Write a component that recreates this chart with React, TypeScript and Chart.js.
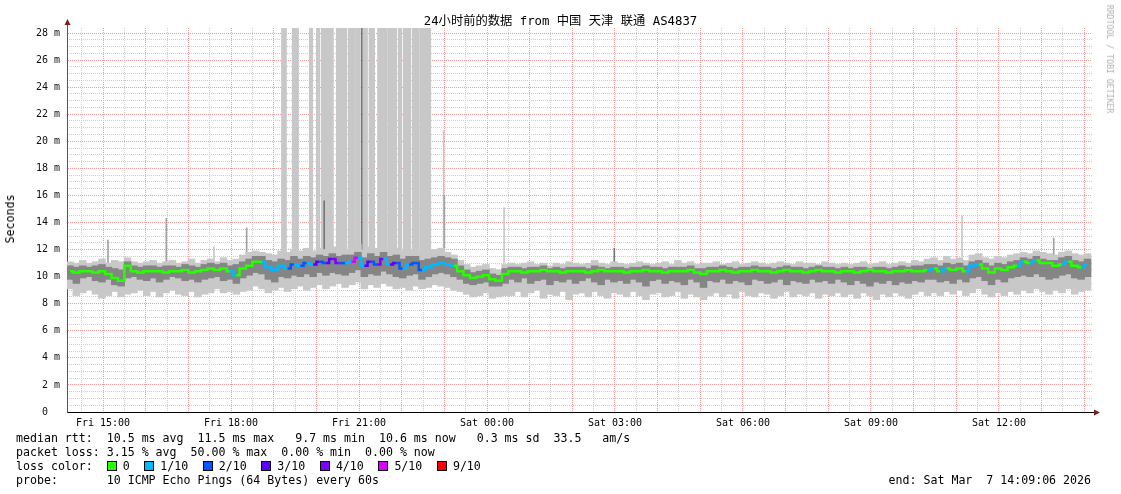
import React, { useEffect, useRef } from 'react';
import { Chart, registerables } from 'chart.js';

Chart.register(...registerables);

// ---------------- data ----------------
// 160 samples of 9 minutes each, starting Fri 14:09 (hours since Fri 00:00)
const START_HOUR = 14.15;
const STEP_HOURS = 0.15;

// median rtt (ms)
const medianRtt = [
  10.4, 10.3, 10.4, 10.4, 10.3, 10.4, 10.2, 9.9, 9.7, 10.8, 10.4, 10.3, 10.4, 10.4, 10.4, 10.3, 10.4, 10.4, 10.5, 10.3, 10.4, 10.5, 10.6, 10.5, 10.6, 10.4,
  10.1, 10.6, 10.8, 11.1, 11.1, 10.7, 10.5, 10.8, 10.6, 10.9, 10.8, 11.0, 10.9, 11.1, 11.0,
  11.3, 11.0, 11.0, 11.1, 11.4, 10.8, 11.1, 10.9, 11.3, 10.9, 11.0, 10.6, 10.9, 11.0, 10.5, 10.7, 10.9, 11.0, 10.9, 10.8,
  10.4, 10.1, 9.9, 10.0, 10.1, 9.8, 9.7, 10.2,
  10.4, 10.4, 10.3, 10.4, 10.4, 10.5, 10.4, 10.4, 10.3, 10.4, 10.4, 10.4, 10.3, 10.4, 10.5, 10.4, 10.4, 10.4, 10.3, 10.4,
  10.4, 10.5, 10.4, 10.4, 10.3, 10.4, 10.4, 10.4, 10.5, 10.3, 10.2, 10.4, 10.4, 10.5, 10.4, 10.3, 10.4, 10.4, 10.5, 10.4,
  10.4, 10.3, 10.4, 10.5, 10.4, 10.4, 10.3, 10.4, 10.5, 10.4, 10.4, 10.3,
  10.4, 10.4, 10.3, 10.4, 10.5, 10.4, 10.4, 10.3, 10.4, 10.4, 10.5, 10.4, 10.4, 10.5,
  10.6, 10.4, 10.6, 10.5, 10.6, 10.4, 10.8, 10.9, 10.6, 10.3, 10.6, 10.5, 10.7, 10.8, 11.1, 11.0, 11.2, 11.0, 11.0, 10.8, 10.9, 11.1, 10.8, 10.7, 10.9,
];

// loss level index per sample (0 -> 0, 1 -> 1/10, ... 6 -> 9/10)
const lossLevel = [
  0, 0, 0, 0, 0, 0, 0, 0, 0, 0, 0, 0, 0, 0, 0, 0, 0, 0, 0, 0, 0, 0, 0, 0, 0, 0,
  1, 0, 0, 0, 0, 1, 1, 1, 1, 2, 1, 2, 1, 3, 2,
  3, 4, 2, 1, 5, 1, 3, 2, 4, 1, 3, 2, 1, 2, 2, 1, 1, 1, 1, 1,
  0, 0, 0, 0, 0, 0, 0, 0,
  0, 0, 0, 0, 0, 0, 0, 0, 0, 0, 0, 0, 0, 0, 0, 0, 0, 0, 0, 0,
  0, 0, 0, 0, 0, 0, 0, 0, 0, 0, 0, 0, 0, 0, 0, 0, 0, 0, 0, 0,
  0, 0, 0, 0, 0, 0, 0, 0, 0, 0, 0, 0,
  0, 0, 0, 0, 0, 0, 0, 0, 0, 0, 0, 0, 0, 0,
  1, 0, 1, 0, 0, 0, 1, 1, 0, 0, 0, 0, 0, 0, 1, 0, 1, 0, 0, 0, 0, 1, 0, 0, 1,
];

// outer smoke (fastest / slowest pings)
const smokeLow = [
  9.1, 8.6, 8.8, 9.0, 8.7, 8.4, 8.6, 8.9, 8.5, 8.7, 8.8, 9.0, 8.6, 8.9, 8.5, 8.8, 9.0, 8.7, 8.6, 8.9, 8.5, 8.7, 8.8, 9.1, 8.8, 8.9,
  8.7, 8.9, 9.0, 9.3, 9.1, 8.8, 9.0, 9.2, 8.9, 9.1, 9.3, 9.0, 9.2, 9.4, 9.1,
  9.3, 9.5, 9.2, 9.4, 9.6, 9.1, 9.4, 9.2, 9.5, 9.3, 9.1, 9.2, 9.0, 9.3, 9.1, 9.2, 9.4, 9.3, 9.2, 9.0,
  8.9, 8.7, 8.5, 8.6, 8.8, 8.4, 8.5, 8.6,
  8.6, 8.9, 8.5, 8.8, 9.0, 8.4, 8.7, 8.6, 8.9, 8.3, 8.7, 8.8, 8.5, 8.9, 8.6, 8.4, 8.8, 8.7, 8.5, 8.9,
  8.6, 8.3, 8.7, 8.8, 8.5, 8.6, 8.9, 8.4, 8.7, 8.5, 8.3, 8.6, 8.8, 8.5, 8.7, 8.4, 8.9, 8.6, 8.5, 8.8,
  8.7, 8.4, 8.6, 8.9, 8.5, 8.7, 8.6, 8.8, 8.4, 8.7, 8.6, 8.8,
  8.5, 8.7, 8.4, 8.8, 8.6, 8.3, 8.7, 8.5, 8.8, 8.6, 8.4, 8.7, 8.9, 8.6,
  8.8, 8.6, 8.9, 8.7, 9.0, 8.6, 8.8, 9.1, 8.7, 8.5, 8.8, 8.6, 8.9, 8.7, 9.0, 8.8, 9.1, 8.9, 8.7, 9.0, 8.8, 9.1, 8.7, 8.9, 9.0,
];
const smokeHigh = [
  11.1, 11.0, 11.2, 11.0, 11.1, 11.3, 11.0, 11.2, 11.1, 11.4, 11.1, 11.0, 11.1, 11.2, 11.0, 11.1, 11.2, 11.0, 11.1, 11.3, 11.0, 11.2, 11.3, 11.1, 11.4, 11.2,
  11.3, 11.6, 11.8, 11.9, 11.8, 11.7, 11.6, 11.9, 11.8, 12.0, 11.9, 12.1, 11.9, 12.1, 12.0,
  12.2, 12.1, 12.0, 12.2, 12.4, 12.0, 12.2, 12.1, 12.3, 12.0, 12.1, 11.9, 12.0, 12.0, 11.8, 11.9, 12.0, 12.1, 11.8, 11.6,
  11.2, 10.9, 10.7, 10.8, 10.9, 10.6, 10.5, 10.9,
  11.0, 10.9, 11.0, 11.1, 10.9, 11.0, 10.8, 11.0, 10.9, 11.1, 11.0, 10.9, 11.0, 11.2, 11.0, 10.9, 11.1, 11.0, 10.9, 11.0,
  11.1, 11.0, 10.9, 11.0, 11.1, 10.9, 11.2, 11.0, 11.1, 10.9, 11.0, 11.0, 11.1, 10.9, 11.0, 11.1, 10.9, 11.0, 11.1, 11.0,
  10.9, 11.0, 11.1, 11.0, 10.9, 11.1, 11.0, 11.0, 10.9, 11.1, 11.0, 10.9,
  11.0, 10.9, 11.0, 11.1, 10.9, 11.0, 11.1, 10.9, 11.0, 11.1, 11.0, 11.2, 11.1, 11.3,
  11.4, 11.2, 11.5, 11.3, 11.4, 11.2, 11.6, 11.7, 11.4, 11.3, 11.5, 11.4, 11.6, 11.7, 11.8, 11.7, 11.9, 11.8, 11.7, 11.6, 11.8, 11.9, 11.7, 11.6, 11.7,
];

// inner (dense) smoke
const coreLow = [
  9.8, 9.5, 9.9, 10.0, 9.7, 9.6, 9.8, 9.4, 9.3, 9.9, 10.0, 9.8, 9.7, 9.9, 9.6, 9.8, 10.0, 9.9, 9.7, 9.8, 9.6, 9.8, 9.9, 10.0, 9.7, 9.8,
  9.5, 9.9, 10.1, 10.3, 10.2, 9.8, 9.6, 10.0, 9.9, 10.1, 10.0, 10.2, 10.0, 10.3, 10.1,
  10.3, 10.2, 10.1, 10.3, 10.5, 10.0, 10.2, 10.1, 10.4, 10.2, 10.0, 9.9, 10.1, 10.2, 9.8, 10.0, 10.2, 10.3, 10.2, 10.0,
  9.8, 9.5, 9.4, 9.5, 9.6, 9.3, 9.3, 9.5,
  9.8, 9.6, 9.9, 9.5, 9.7, 9.8, 9.4, 9.7, 9.6, 9.8, 9.5, 9.7, 9.9, 9.6, 9.4, 9.8, 9.6, 9.7, 9.5, 9.8,
  9.6, 9.3, 9.7, 9.8, 9.5, 9.7, 9.6, 9.4, 9.8, 9.6, 9.2, 9.7, 9.6, 9.8, 9.5, 9.7, 9.6, 9.4, 9.8, 9.7,
  9.5, 9.6, 9.8, 9.4, 9.7, 9.6, 9.5, 9.8, 9.6, 9.7, 9.5, 9.8,
  9.6, 9.4, 9.7, 9.5, 9.3, 9.6, 9.5, 9.7, 9.4, 9.6, 9.5, 9.7, 9.6, 9.8,
  9.8, 9.6, 9.7, 9.5, 9.8, 9.6, 9.9, 10.0, 9.7, 9.4, 9.8, 9.6, 9.9, 10.0, 10.1, 10.0, 10.2, 10.0, 9.8, 9.9, 10.1, 10.2, 9.9, 9.8, 10.0,
];
const coreHigh = [
  10.8, 10.7, 10.8, 10.7, 10.8, 10.9, 10.7, 10.6, 10.5, 11.1, 10.8, 10.7, 10.8, 10.8, 10.7, 10.8, 10.8, 10.7, 10.9, 10.8, 10.7, 10.9, 11.0, 10.9, 11.0, 10.8,
  10.9, 11.1, 11.3, 11.5, 11.5, 11.2, 11.1, 11.3, 11.2, 11.5, 11.3, 11.5, 11.4, 11.6, 11.5,
  11.7, 11.5, 11.6, 11.6, 11.8, 11.4, 11.7, 11.5, 11.8, 11.5, 11.6, 11.3, 11.5, 11.5, 11.2, 11.3, 11.4, 11.5, 11.4, 11.3,
  10.8, 10.5, 10.3, 10.4, 10.5, 10.2, 10.1, 10.6,
  10.7, 10.7, 10.6, 10.7, 10.7, 10.8, 10.6, 10.7, 10.6, 10.7, 10.7, 10.7, 10.6, 10.8, 10.7, 10.6, 10.7, 10.7, 10.6, 10.7,
  10.7, 10.8, 10.7, 10.7, 10.6, 10.7, 10.7, 10.7, 10.8, 10.6, 10.6, 10.7, 10.7, 10.8, 10.7, 10.6, 10.7, 10.7, 10.8, 10.7,
  10.7, 10.6, 10.7, 10.8, 10.7, 10.7, 10.6, 10.7, 10.8, 10.7, 10.7, 10.6,
  10.7, 10.6, 10.7, 10.7, 10.6, 10.7, 10.7, 10.6, 10.7, 10.8, 10.7, 10.8, 10.8, 10.9,
  10.9, 10.8, 11.0, 10.9, 11.0, 10.8, 11.1, 11.2, 11.0, 10.8, 11.0, 10.9, 11.1, 11.2, 11.4, 11.3, 11.5, 11.3, 11.2, 11.2, 11.4, 11.5, 11.2, 11.1, 11.3,
];

// periods where slow pings go off the top of the graph (minutes since Fri 00:00)
const offScaleStart = [1152, 1167, 1191, 1201, 1208, 1229, 1246, 1256, 1267, 1275, 1287, 1302, 1316, 1323, 1336, 1347];
const offScaleEnd = [1157, 1174, 1194, 1204, 1223, 1242, 1253, 1261, 1271, 1281, 1299, 1312, 1319, 1332, 1344, 1360];
const offScaleLow = 11.5;
const offScaleHigh = 30;

// single slow-ping spikes (minutes since Fri 00:00)
const spikeTime = [907, 989, 1056, 1102, 1211, 1264, 1379, 1380, 1464, 1619, 2108, 2237];
const spikeLow = [11.0, 11.0, 11.2, 11.3, 11.5, 11.2, 11.5, 11.5, 11.0, 11.0, 11.5, 11.5];
const spikeHigh = [12.7, 14.3, 12.2, 13.6, 15.6, 30, 20.8, 16.0, 15.1, 12.1, 14.5, 12.85];
const spikeShade = [1, 1, 0, 1, 2, 2, 0, 1, 0, 2, 0, 1];

const lossLabels = ['0', '1/10', '2/10', '3/10', '4/10', '5/10', '9/10'];
const lossColors = ['#26ff00', '#00b8ff', '#0059ff', '#5e00ff', '#7e00ff', '#dd00ff', '#ff0000'];

const xTickHours = [15, 18, 21, 24, 27, 30, 33, 36];
const xTickLabels = ['Fri 15:00', 'Fri 18:00', 'Fri 21:00', 'Sat 00:00', 'Sat 03:00', 'Sat 06:00', 'Sat 09:00', 'Sat 12:00'];
const yTickValues = [0, 2, 4, 6, 8, 10, 12, 14, 16, 18, 20, 22, 24, 26, 28];
const yTickLabels = ['0  ', '2 m', '4 m', '6 m', '8 m', '10 m', '12 m', '14 m', '16 m', '18 m', '20 m', '22 m', '24 m', '26 m', '28 m'];

const titleText = '24小时前的数据 from 中国 天津 联通 AS4837';
const legendRtt = 'median rtt:  10.5 ms avg  11.5 ms max   9.7 ms min  10.6 ms now   0.3 ms sd  33.5   am/s';
const legendLoss = 'packet loss: 3.15 % avg  50.00 % max  0.00 % min  0.00 % now';
const legendProbe = 'probe:       10 ICMP Echo Pings (64 Bytes) every 60s';
const legendEnd = 'end: Sat Mar  7 14:09:06 2026';

// ---------------- styling ----------------
const X_MIN = 14.156;
const X_MAX = 38.18;
const Y_MAX = 28.37;
const MONO = '"DejaVu Sans Mono", monospace';
const MAJOR_GRID = '#f09c9c';
const MINOR_GRID = '#cdcdcd';
const SHADES = ['#c8c8c8', '#a2a2a2', '#767676'];

const arrowsPlugin = {
  id: 'arrows',
  afterDraw(chart: any) {
    const { ctx, chartArea: a } = chart;
    ctx.save();
    ctx.strokeStyle = '#555';
    ctx.lineWidth = 1;
    ctx.beginPath();
    ctx.moveTo(a.left + 0.5, a.top);
    ctx.lineTo(a.left + 0.5, a.top - 4);
    ctx.stroke();
    ctx.strokeStyle = '#000';
    ctx.beginPath();
    ctx.moveTo(a.right, a.bottom + 0.5);
    ctx.lineTo(a.right + 2, a.bottom + 0.5);
    ctx.stroke();
    ctx.fillStyle = '#7f1d1d';
    ctx.beginPath();
    ctx.moveTo(a.left + 0.5, a.top - 9);
    ctx.lineTo(a.left - 2.5, a.top - 3);
    ctx.lineTo(a.left + 3.5, a.top - 3);
    ctx.closePath();
    ctx.fill();
    ctx.beginPath();
    ctx.moveTo(a.right + 8, a.bottom + 0.5);
    ctx.lineTo(a.right + 2, a.bottom - 2.5);
    ctx.lineTo(a.right + 2, a.bottom + 3.5);
    ctx.closePath();
    ctx.fill();
    ctx.restore();
  },
};

function buildConfig(): any {
  const sampleHour = (i: number) => START_HOUR + (i + 0.5) * STEP_HOURS;
  const medianPts = medianRtt.map((v, i) => ({ x: sampleHour(i), y: v }));
  const smokePts = smokeLow.map((v, i) => ({ x: sampleHour(i), y: [v, smokeHigh[i]] }));
  const corePts = coreLow.map((v, i) => ({ x: sampleHour(i), y: [v, coreHigh[i]] }));
  const offPts: any[] = [];
  offScaleStart.forEach((s, k) => {
    for (let m = s; m <= offScaleEnd[k]; m++) offPts.push({ x: m / 60, y: [offScaleLow, offScaleHigh] });
  });
  const spikePts = spikeTime.map((t, i) => ({ x: t / 60, y: [spikeLow[i], spikeHigh[i]] }));

  const majorX: number[] = [];
  for (let h = Math.ceil(X_MIN); h <= X_MAX; h++) majorX.push(h);
  const minorX: number[] = [];
  for (let h = Math.ceil(X_MIN * 2) / 2; h <= X_MAX; h += 0.5) if (!Number.isInteger(h)) minorX.push(h);
  const minorY: number[] = [];
  for (let v = 0.5; v <= Y_MAX; v += 0.5) if (v % 2 !== 0) minorY.push(v);

  return {
    type: 'bar',
    data: {
      datasets: [
        {
          type: 'line',
          label: 'median',
          data: medianPts,
          borderColor: lossColors[0],
          borderWidth: 2.5,
          pointRadius: 0,
          stepped: 'middle',
          order: 0,
          segment: { borderColor: (c: any) => lossColors[lossLevel[c.p1DataIndex]] },
        },
        { label: 'core', data: corePts, backgroundColor: '#858585', barThickness: 6.9, grouped: false, borderWidth: 0, order: 1 },
        { label: 'smoke', data: smokePts, backgroundColor: SHADES[0], barThickness: 6.9, grouped: false, borderWidth: 0, order: 2 },
        {
          label: 'spikes',
          data: spikePts,
          backgroundColor: (c: any) => SHADES[spikeShade[c.dataIndex]],
          barThickness: 1,
          grouped: false,
          borderWidth: 0,
          order: 3,
        },
        { label: 'offscale', data: offPts, backgroundColor: SHADES[0], barThickness: 1.4, grouped: false, borderWidth: 0, order: 4 },
      ],
    },
    options: {
      responsive: false,
      maintainAspectRatio: false,
      animation: false,
      devicePixelRatio: 1,
      events: [],
      layout: { padding: { top: 28, right: 29, bottom: 0, left: 0 } },
      plugins: { legend: { display: false }, tooltip: { enabled: false }, title: { display: false } },
      scales: {
        x: {
          type: 'linear',
          axis: 'x',
          position: 'bottom',
          offset: false,
          min: X_MIN,
          max: X_MAX,
          afterBuildTicks: (s: any) => { s.ticks = majorX.map((v) => ({ value: v })); },
          afterFit: (s: any) => { s.height = 82; },
          ticks: {
            autoSkip: false,
            maxRotation: 0,
            minRotation: 0,
            padding: 5,
            color: '#000',
            font: { family: MONO, size: 10 },
            callback: (v: number) => {
              const i = xTickHours.indexOf(v);
              return i >= 0 ? xTickLabels[i] : '';
            },
          },
          grid: { color: MAJOR_GRID, lineWidth: 1, drawTicks: false, offset: false },
          border: { display: true, color: '#000', width: 1, dash: [1, 1] },
        },
        xMinor: {
          type: 'linear',
          axis: 'x',
          position: 'bottom',
          offset: false,
          min: X_MIN,
          max: X_MAX,
          afterBuildTicks: (s: any) => { s.ticks = minorX.map((v) => ({ value: v })); },
          afterFit: (s: any) => { s.height = 0; },
          ticks: { display: false },
          grid: { color: MINOR_GRID, lineWidth: 1, drawTicks: false, offset: false },
          border: { display: false, dash: [1, 1] },
        },
        y: {
          type: 'linear',
          axis: 'y',
          position: 'left',
          min: 0,
          max: Y_MAX,
          afterBuildTicks: (s: any) => { s.ticks = yTickValues.map((v) => ({ value: v })); },
          afterFit: (s: any) => { s.width = 67; },
          ticks: {
            autoSkip: false,
            padding: 7,
            color: '#111',
            font: { family: MONO, size: 10 },
            callback: (v: number) => {
              const i = yTickValues.indexOf(v);
              return i >= 0 ? yTickLabels[i] : '';
            },
          },
          grid: { color: MAJOR_GRID, lineWidth: 1, drawTicks: false },
          border: { display: true, color: '#555', width: 1, dash: [1, 1] },
        },
        yMinor: {
          type: 'linear',
          axis: 'y',
          position: 'left',
          min: 0,
          max: Y_MAX,
          afterBuildTicks: (s: any) => { s.ticks = minorY.map((v) => ({ value: v })); },
          afterFit: (s: any) => { s.width = 0; },
          ticks: { display: false },
          grid: { color: MINOR_GRID, lineWidth: 1, drawTicks: false },
          border: { display: false, dash: [1, 1] },
        },
      },
    },
    plugins: [arrowsPlugin],
  };
}

const textBase: React.CSSProperties = {
  position: 'absolute',
  whiteSpace: 'pre',
  fontFamily: MONO,
  color: '#000',
  margin: 0,
};

export default function App() {
  const ref = useRef<HTMLCanvasElement>(null);
  useEffect(() => {
    const chart = new Chart(ref.current as HTMLCanvasElement, buildConfig());
    return () => chart.destroy();
  }, []);

  const legendFont = '11.6px';
  return (
    <div style={{ position: 'absolute', left: 0, top: 0, width: 1121, height: 494, background: '#fff', overflow: 'hidden' }}>
      <canvas ref={ref} width={1121} height={494} style={{ position: 'absolute', left: 0, top: 0, width: 1121, height: 494 }} />
      <div
        style={{
          ...textBase,
          left: 0,
          width: 1121,
          top: 13,
          lineHeight: '16px',
          textAlign: 'center',
          fontSize: '12.3px',
          fontFamily: '"DejaVu Sans Mono", "Noto Sans CJK SC", monospace',
        }}
      >
        {titleText}
      </div>
      <div
        style={{
          ...textBase,
          left: 10,
          top: 219,
          fontSize: legendFont,
          lineHeight: '14px',
          transform: 'translate(-50%, -50%) rotate(-90deg)',
        }}
      >
        Seconds
      </div>
      <div
        style={{
          ...textBase,
          left: 1110,
          top: 59,
          fontSize: '8.2px',
          lineHeight: '10px',
          color: '#b0b0b0',
          transform: 'translate(-50%, -50%) rotate(90deg)',
        }}
      >
        RRDTOOL / TOBI OETIKER
      </div>
      <div style={{ ...textBase, left: 16, top: 431, fontSize: legendFont, lineHeight: '14px' }}>{legendRtt}</div>
      <div style={{ ...textBase, left: 16, top: 445, fontSize: legendFont, lineHeight: '14px' }}>{legendLoss}</div>
      <div style={{ ...textBase, left: 16, top: 459, fontSize: legendFont, lineHeight: '14px', display: 'flex', alignItems: 'center' }}>
        <span>{'loss color:  '}</span>
        {lossLabels.map((lab, i) => (
          <span key={lab} style={{ display: 'inline-flex', alignItems: 'center', marginRight: 14.6 }}>
            <span
              style={{
                display: 'inline-block',
                width: 8,
                height: 8,
                border: '1px solid #000',
                background: lossColors[i],
                marginRight: 6,
              }}
            />
            <span>{lab}</span>
          </span>
        ))}
      </div>
      <div style={{ ...textBase, left: 16, top: 473, fontSize: legendFont, lineHeight: '14px' }}>{legendProbe}</div>
      <div style={{ ...textBase, right: 1121 - 1091, top: 473, fontSize: legendFont, lineHeight: '14px' }}>{legendEnd}</div>
    </div>
  );
}
